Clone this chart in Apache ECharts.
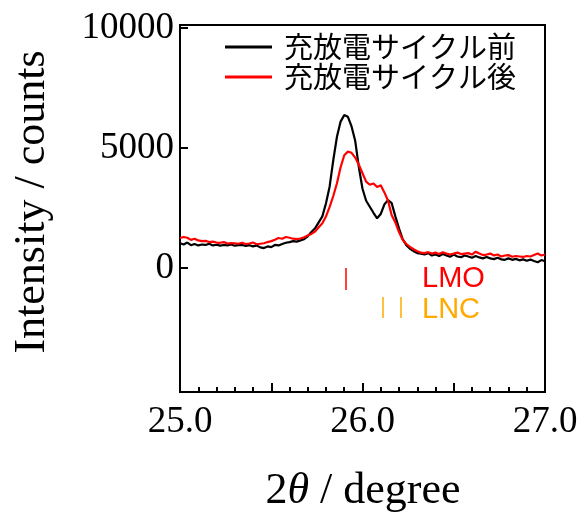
<!DOCTYPE html>
<html>
<head>
<meta charset="utf-8">
<script src="https://cdn.jsdelivr.net/npm/echarts@6/dist/echarts.min.js"></script>
<style>
  html, body { margin: 0; padding: 0; background: #fff; }
  #main { width: 582px; height: 513px; }
</style>
</head>
<body>
<div id="main"></div>
<script>
// 2θ (degree)
var twoTheta = [
  25.00, 25.02, 25.04, 25.06, 25.08, 25.10, 25.12, 25.14, 25.16, 25.18,
  25.20, 25.22, 25.24, 25.26, 25.28, 25.30, 25.32, 25.34, 25.36, 25.38,
  25.40, 25.42, 25.44, 25.46, 25.48, 25.50, 25.52, 25.54, 25.56, 25.58,
  25.60, 25.62, 25.64, 25.66, 25.68, 25.70, 25.72, 25.74, 25.76, 25.78,
  25.80, 25.82, 25.84, 25.86, 25.88, 25.90, 25.92, 25.94, 25.96, 25.98,
  26.00, 26.02, 26.04, 26.06, 26.08, 26.10, 26.12, 26.14, 26.16, 26.18,
  26.20, 26.22, 26.24, 26.26, 26.28, 26.30, 26.32, 26.34, 26.36, 26.38,
  26.40, 26.42, 26.44, 26.46, 26.48, 26.50, 26.52, 26.54, 26.56, 26.58,
  26.60, 26.62, 26.64, 26.66, 26.68, 26.70, 26.72, 26.74, 26.76, 26.78,
  26.80, 26.82, 26.84, 26.86, 26.88, 26.90, 26.92, 26.94, 26.96, 26.98,
  27.00
];

// 充放電サイクル前
var before = [
  1030, 980, 1060, 950, 1000, 940, 980, 960, 1010, 940,
  970, 930, 960, 940, 980, 930, 950, 960, 920, 950,
  900, 940, 860, 830, 900, 870, 960, 940, 1000, 1050,
  1080, 1120, 1100, 1150, 1200, 1320, 1500, 1650, 1900, 2150,
  2700, 3400, 4500, 5470, 6100, 6370, 6300, 5900, 5300, 4200,
  3300, 2800, 2550, 2300, 2070, 2250, 2650, 2830, 2700, 2150,
  1650, 1200, 950, 800, 700, 620, 600, 560, 620, 520,
  560, 500, 580, 520, 470, 560, 480, 450, 520, 480,
  430, 500, 440, 400, 460, 400, 370, 430, 360, 340,
  400, 340, 380, 320, 360, 300, 350, 290, 240, 330,
  280
];

// 充放電サイクル後
var after = [
  1250, 1290, 1260, 1170, 1220, 1150, 1120, 1130, 1080, 1100,
  1060, 1050, 1080, 1020, 1040, 1030, 1010, 1050, 1000, 1020,
  1060, 990, 1010, 1030, 1080, 1120, 1180, 1250, 1220, 1290,
  1260, 1220, 1200, 1230, 1280, 1350, 1420, 1520, 1700, 1860,
  2150, 2550, 3000, 3530, 4200, 4700, 4850, 4800, 4600, 4300,
  3950, 3600, 3470, 3520, 3380, 3450, 3150, 2800, 2200, 1900,
  1500, 1180, 1000, 880, 780, 700, 640, 620, 660, 600,
  640, 580, 660, 600, 560, 600, 640, 580, 600, 620,
  560, 680, 600, 540, 560, 600, 520, 560, 480, 520,
  540, 470, 500, 480, 460, 500, 480, 540, 600, 520,
  560
];

// 参照ピーク位置
var lmoPeaks = [25.91];
var lncPeaks = [26.11, 26.21];

var xTickLabels = [25, 26, 27];
var yTickLabels = [0, 5000, 10000];

var seriesNames = ['充放電サイクル前', '充放電サイクル後'];

function pairs(xs, ys) {
  var out = [];
  for (var i = 0; i < xs.length; i++) {
    out.push([xs[i], ys[i]]);
  }
  return out;
}

function peakLines(list, y0, y1) {
  var out = [];
  for (var i = 0; i < list.length; i++) {
    out.push([{ coord: [list[i], y0] }, { coord: [list[i], y1] }]);
  }
  return out;
}

var serif = '"Liberation Serif", "Times New Roman", serif';
var myChart = echarts.init(document.getElementById('main'));

var option = {
  animation: false,
  backgroundColor: '#fff',
  grid: {
    left: 180, right: 37, top: 25, bottom: 121,
    show: true, borderColor: '#000', borderWidth: 2,
    containLabel: false, outerBoundsMode: 'none'
  },
  legend: {
    data: seriesNames,
    orient: 'vertical',
    left: 225, top: 32,
    padding: 0, itemGap: 0,
    itemWidth: 47, itemHeight: 3,
    icon: 'rect',
    textStyle: {
      fontFamily: '"Noto Sans CJK JP", sans-serif',
      fontSize: 29, lineHeight: 30, color: '#000',
      padding: [0, 0, 0, 7]
    }
  },
  xAxis: {
    type: 'value',
    min: 25, max: 27, interval: 0.5,
    axisLine: { show: true, onZero: false, lineStyle: { color: '#000', width: 2 } },
    axisTick: { show: true, inside: true, length: 9, lineStyle: { color: '#000', width: 2 } },
    minorTick: { show: true, splitNumber: 5, length: 5, lineStyle: { color: '#000', width: 2 } },
    axisLabel: {
      customValues: xTickLabels,
      formatter: function (v) { return v.toFixed(1); },
      fontFamily: serif, fontSize: 37, color: '#000', margin: 12
    },
    splitLine: { show: false }
  },
  yAxis: {
    type: 'value',
    min: -5167, max: 10125,
    axisLine: { show: true, lineStyle: { color: '#000', width: 2 } },
    axisTick: { show: true, inside: true, length: 8, customValues: yTickLabels, lineStyle: { color: '#000', width: 2 } },
    axisLabel: {
      customValues: yTickLabels,
      formatter: function (v) { return String(v); },
      fontFamily: serif, fontSize: 37, color: '#000', margin: 6
    },
    splitLine: { show: false }
  },
  series: [
    {
      name: seriesNames[0],
      type: 'line',
      data: pairs(twoTheta, before),
      showSymbol: false,
      lineStyle: { color: '#000', width: 2.2 },
      itemStyle: { color: '#000' },
      z: 3
    },
    {
      name: seriesNames[1],
      type: 'line',
      data: pairs(twoTheta, after),
      showSymbol: false,
      lineStyle: { color: '#ff0000', width: 2.2 },
      itemStyle: { color: '#ff0000' },
      z: 4,
      markLine: {
        silent: true,
        symbol: ['none', 'none'],
        label: { show: false },
        lineStyle: { color: '#ff0000', width: 1.5, type: 'solid' },
        data: peakLines(lmoPeaks, 0, -920)
      }
    },
    {
      name: 'LNC',
      type: 'line',
      data: [],
      markLine: {
        silent: true,
        symbol: ['none', 'none'],
        label: { show: false },
        lineStyle: { color: '#ffaa00', width: 1.5, type: 'solid' },
        data: peakLines(lncPeaks, -1210, -2080)
      }
    }
  ],
  graphic: [
    {
      type: 'text', left: 422, top: 264,
      style: { text: 'LMO', fill: '#ff0000', font: '29px "Liberation Sans", Arial, sans-serif' }
    },
    {
      type: 'text', left: 422, top: 295,
      style: { text: 'LNC', fill: '#ffaa00', font: '29px "Liberation Sans", Arial, sans-serif' }
    },
    {
      type: 'text', x: 363, y: 491,
      style: {
        text: '{n|2}{t|θ}{n| / degree}',
        align: 'center', verticalAlign: 'middle',
        rich: {
          n: { fontFamily: serif, fontSize: 44, fill: '#000' },
          t: { fontFamily: serif, fontSize: 44, fontStyle: 'italic', fill: '#000' }
        }
      }
    },
    {
      type: 'text', x: 32, y: 202, rotation: Math.PI / 2,
      style: {
        text: 'Intensity / counts',
        align: 'center', verticalAlign: 'middle',
        font: '44px ' + serif, fill: '#000'
      }
    }
  ]
};

myChart.setOption(option);
</script>
</body>
</html>
